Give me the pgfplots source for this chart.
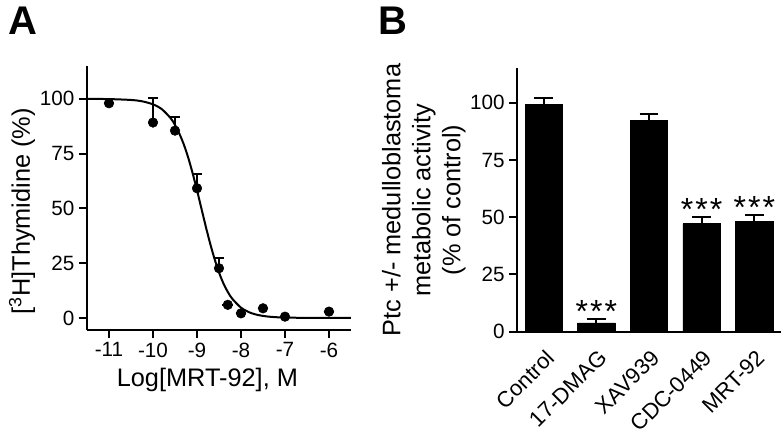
\documentclass[border=0pt]{standalone}
\usepackage{pgfplots}
\pgfplotsset{compat=1.18}
\usepackage{fontspec}
\setmainfont{Liberation Sans}

\pgfplotsset{
  panel/.style={
    scale only axis,
    axis lines*=left,
    axis line style={line width=1.5pt},
    tick style={line width=1.5pt, black},
    tick align=outside,
    major tick length=6pt,
    ticklabel style={font=\fontsize{15.5}{17}\selectfont},
    label style={font=\fontsize{19}{22.5}\selectfont},
    clip=false,
  },
}

\begin{document}
\begin{tikzpicture}
\useasboundingbox (0,0) rectangle (587.25pt,-329.25pt);

% panel letters
\node[anchor=base west, inner sep=0, font=\bfseries\fontsize{30}{30}\selectfont] at (6pt,-26.25pt) {A};
\node[anchor=base west, inner sep=0, font=\bfseries\fontsize{30}{30}\selectfont] at (283.5pt,-25.5pt) {B};

% A: dose response
\begin{axis}[panel,
  at={(65.25pt,-247.5pt)}, anchor=south west,
  width=198pt, height=198pt,
  xmin=-11.5, xmax=-5.5, ymin=-5.5, ymax=115,
  xtick={-11,-10,-9,-8,-7,-6},
  xticklabels={-11,-10,-9,-8,-7,-6},
  ytick={0,25,50,75,100},
  yticklabels={0,25,50,75,100},
  xlabel={Log[MRT-92], M},
  ylabel={[\textsuperscript{3}H]Thymidine (\%)},
  xlabel style={at={(axis description cs:0.456,-0.19)}, anchor=center},
  ylabel style={at={(axis description cs:-0.246,0.45)}, anchor=center, rotate=0},
]
% fitted curve
\addplot[black, line width=1.5pt, smooth] coordinates {
(-11.5,99.98) (-11,99.9) (-10.5,99.5) (-10.25,98.9) (-10,97.5) (-9.8,95.3)
(-9.6,91.2) (-9.5,88.1) (-9.4,84.1) (-9.3,79.2) (-9.2,73.2) (-9.1,66.1)
(-9.0,58.3) (-8.9,50) (-8.8,41.7) (-8.7,33.9) (-8.6,26.9) (-8.5,20.8)
(-8.4,15.8) (-8.3,11.9) (-8.2,8.8) (-8.0,4.7) (-7.8,2.48) (-7.6,1.29)
(-7.4,0.66) (-7.2,0.34) (-7.0,0.18) (-6.5,0.03) (-6,0.01) (-5.5,0)
};
% data points with upper error bars
\addplot[black, only marks, mark=*, mark size=3.6pt,
  error bars/.cd, y dir=plus, y explicit,
  error bar style={line width=1.5pt},
  error mark options={rotate=90, mark size=4pt, line width=1.5pt}]
coordinates {
(-11,98) +- (0,0)
(-10,89.2) +- (0,11.4)
(-9.5,85.5) +- (0,6.1)
(-9,59.2) +- (0,6.4)
(-8.5,22.7) +- (0,4.8)
(-8.3,6) +- (0,0)
(-8,2.1) +- (0,0)
(-7.5,4.4) +- (0,0)
(-7,0.6) +- (0,0)
(-6,2.9) +- (0,0)
};
\end{axis}

% B: bar chart
\begin{axis}[panel,
  at={(388pt,-248.8pt)}, anchor=south west,
  width=197.5pt, height=197.5pt,
  xmin=-0.5, xmax=4.5, ymin=0, ymax=115,
  xtick={0,1,2,3,4},
  xticklabels={Control,17-DMAG,XAV939,CDC-0449,MRT-92},
  x tick style={draw=none},
  xticklabel style={rotate=45, anchor=north east, inner sep=0pt,
    font=\fontsize{16.5}{18}\selectfont, xshift=-4pt, yshift=-5pt},
  ytick={0,25,50,75,100},
  yticklabels={0,25,50,75,100},
  ylabel={Ptc +/- medulloblastoma\\metabolic activity\\(\% of control)},
  ylabel style={at={(axis description cs:-0.355,0.5)}, anchor=center, align=center, rotate=0},
]
\addplot[ybar, bar width=28pt, fill=black, draw=black,
  error bars/.cd, y dir=plus, y explicit,
  error bar style={line width=1.5pt},
  error mark options={rotate=90, mark size=7pt, line width=1.5pt}]
coordinates {
(0,99.3) +- (0,2.6)
(1,3.9) +- (0,1.5)
(2,92.2) +- (0,3.0)
(3,47.2) +- (0,2.9)
(4,48.2) +- (0,2.9)
};
% significance stars
\addplot[draw=none, nodes near coords={*\hspace{1.5pt}*\hspace{1.5pt}*},
  every node near coord/.append style={anchor=base, yshift=-2.5pt, inner sep=0,
    font=\fontsize{24}{24}\selectfont}]
coordinates {(1,5.4) (3,50.1) (4,51.1)};
\end{axis}
\end{tikzpicture}
\end{document}
